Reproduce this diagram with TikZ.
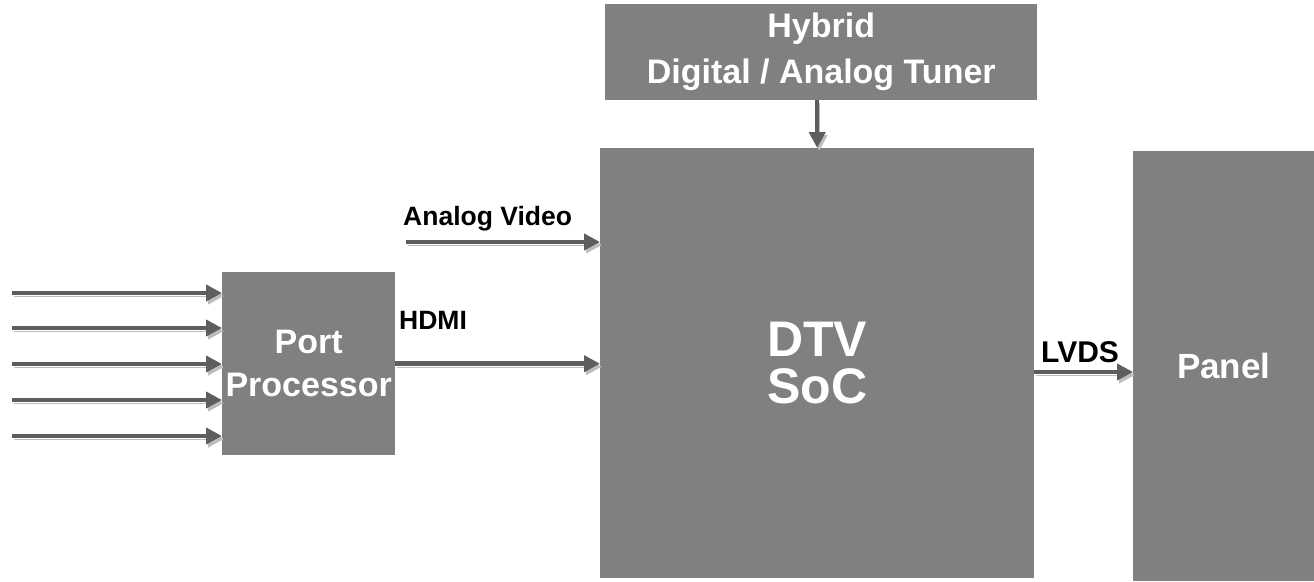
\documentclass[tikz,border=0pt]{standalone}
\usepackage{fontspec}
\setmainfont{Liberation Sans}
\usetikzlibrary{arrows.meta}
\definecolor{boxc}{HTML}{808080}
\definecolor{arrowc}{HTML}{5E5E5E}
\definecolor{shadowc}{HTML}{BDBDBD}
\tikzset{
  block/.style={fill=boxc, draw=none, inner sep=0pt, anchor=north west,
    text=white, align=center, font=\bfseries\fontsize{34}{44}\selectfont},
  sig/.style={draw=arrowc, line width=4.5pt,
    -{Triangle[length=16pt,width=16pt]},
    preaction={draw=shadowc, transform canvas={shift={(2pt,-3pt)}}}},
  lbl/.style={anchor=base west, inner sep=0pt, text=black,
    font=\bfseries\fontsize{26.5}{30}\selectfont},
}
\begin{document}
\begin{tikzpicture}[x=1pt,y=-1pt]
\useasboundingbox (0,0) rectangle (1314,581);

% blocks
\node[block, minimum width=173pt, minimum height=183pt,
      font=\bfseries\fontsize{34}{43}\selectfont] (port) at (222,272) {Port\\Processor};
\node[block, minimum width=434pt, minimum height=430pt,
      font=\bfseries\fontsize{50}{47}\selectfont] (dtv) at (600,148) {DTV\\SoC};
\node[block, minimum width=432pt, minimum height=96pt,
      font=\bfseries\fontsize{34}{46}\selectfont] (tuner) at (605,4) {Hybrid\\Digital / Analog Tuner};
\node[block, minimum width=181pt, minimum height=430pt,
      font=\bfseries\fontsize{35}{42}\selectfont] (panel) at (1133,151) {Panel};

% free ends of the input lines
\coordinate (in1) at (12,293);
\coordinate (in2) at (12,328);
\coordinate (in3) at (12,364);
\coordinate (in4) at (12,400);
\coordinate (in5) at (12,436);
\coordinate (av) at (406,242);
\coordinate (lv) at (1034,372);

% connectors
\foreach \i in {1,...,5}
  \draw[sig] (in\i) -- (in\i -| port.west);
\draw[sig] (av) -- (av -| dtv.west);
\draw[sig] (port.east) -- (port.east -| dtv.west);
\draw[sig] (lv) -- (lv -| panel.west);
\draw[sig] (tuner.south -| dtv.north) -- (dtv.north);

% signal labels
\node[lbl] (lav) at (403,225) {Analog Video};
\node[lbl] (lhdmi) at (399,329) {HDMI};
\node[lbl, font=\bfseries\fontsize{30}{34}\selectfont] (llvds) at (1041,362) {LVDS};
\end{tikzpicture}
\end{document}
